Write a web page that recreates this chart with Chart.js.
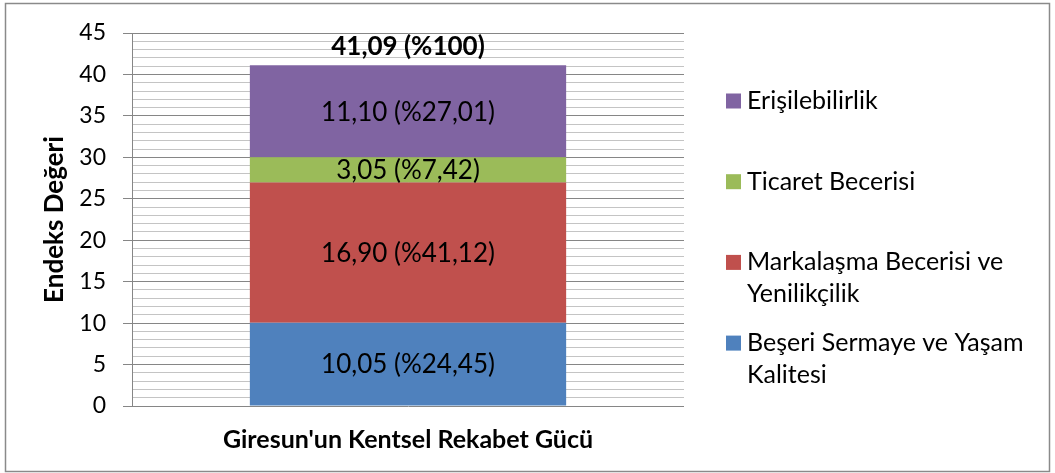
<!DOCTYPE html>
<html>
<head>
<meta charset="utf-8">
<script src="https://cdn.jsdelivr.net/npm/chart.js@4"></script>
<style>
  html, body { margin: 0; padding: 0; background: #fff; }
  #wrap { width: 1055px; height: 473px; }
</style>
</head>
<body>
<div id="wrap"><canvas id="chartRekabet"></canvas></div>
<script>
// ── Giresun kentsel rekabet gücü (yığılmış sütun) ─────────

const kategoriler = ["Giresun'un Kentsel Rekabet Gücü"];
const seriAdlari  = [
  ['Beşeri Sermaye ve Yaşam', 'Kalitesi'],
  ['Markalaşma Becerisi ve', 'Yenilikçilik'],
  ['Ticaret Becerisi'],
  ['Erişilebilirlik']
];
const degerler    = [10.05, 16.90, 3.05, 11.10];
const yuzdeler    = ['24,45', '41,12', '7,42', '27,01'];
const renkler     = ['#4F81BD', '#C0504D', '#9BBB59', '#8064A2'];
const toplamEtiket = '41,09 (%100)';
const yTikler     = [0, 5, 10, 15, 20, 25, 30, 35, 40, 45];

const FONT = 'Lato, "Open Sans", sans-serif';
const fmtTR = v => v.toFixed(2).replace('.', ',');

const datasets = degerler.map((v, i) => ({
  label: seriAdlari[i].join(' '),
  data: [v],
  backgroundColor: renkler[i],
  borderWidth: 0,
  barPercentage: 0.573,
  categoryPercentage: 1
}));

const cerceveEklenti = {
  id: 'cerceve',
  beforeDraw(chart) {
    const c = chart.ctx;
    c.save();
    c.fillStyle = '#fff';
    c.fillRect(0, 0, chart.width, chart.height);
    c.strokeStyle = '#8a8a8a'; c.lineWidth = 1.5;
    c.strokeRect(5.5, 3.5, 1044, 468);
    c.restore();
  }
};

const etiketEklenti = {
  id: 'etiketler',
  afterDatasetsDraw(chart) {
    const c = chart.ctx;
    c.save();
    c.fillStyle = '#000';
    c.textAlign = 'center'; c.textBaseline = 'middle';
    c.font = '26px ' + FONT;
    let ustY = 0, ortaX = 0;
    chart.data.datasets.forEach((ds, i) => {
      const bar = chart.getDatasetMeta(i).data[0];
      const y = (bar.y + bar.base) / 2;
      c.fillText(fmtTR(ds.data[0]) + ' (%' + yuzdeler[i] + ')', bar.x, y + 1);
      ustY = bar.y; ortaX = bar.x;
    });
    c.font = 'bold 26px ' + FONT;
    c.fillText(toplamEtiket, ortaX, ustY - 19);

    // legend (sağda, ters sırayla)
    c.font = '25px ' + FONT;
    c.textAlign = 'left';
    const sira = [3, 2, 1, 0];
    sira.forEach((idx, k) => {
      const y0 = 101 + k * 80.7;
      c.fillStyle = renkler[idx];
      c.fillRect(726, y0 - 7.5, 15, 15);
      c.fillStyle = '#000';
      seriAdlari[idx].forEach((satir, j) => c.fillText(satir, 747, y0 + j * 32));
    });
    c.restore();
  }
};

new Chart(document.getElementById('chartRekabet'), {
  type: 'bar',
  data: { labels: kategoriler, datasets },
  options: {
    responsive: true, maintainAspectRatio: false, animation: false,
    layout: { padding: { top: 33, right: 371, left: 0, bottom: 0 } },
    plugins: { legend: { display: false }, tooltip: { enabled: false } },
    scales: {
      x: {
        stacked: true,
        afterFit: s => { s.height = 67; },
        border: { display: false },
        grid: { display: true, drawOnChartArea: false, drawTicks: false, color: 'transparent' },
        ticks: { color: '#000', padding: 19, font: { family: FONT, size: 25, weight: 'bold' } }
      },
      y: {
        stacked: true, min: 0, max: 45,
        afterFit: s => { s.width = 132; },
        border: { display: true, color: '#868686', width: 1 },
        grid: {
          color: ctx => yTikler.includes(ctx.tick.value) ? '#868686' : '#c4c4c4',
          tickColor: ctx => yTikler.includes(ctx.tick.value) ? '#868686' : 'transparent',
          tickLength: 9, lineWidth: 1
        },
        ticks: {
          stepSize: 1, autoSkip: false, padding: 17, color: '#000',
          font: { family: FONT, size: 23 },
          callback: v => yTikler.includes(v) ? String(v) : ''
        },
        title: {
          display: true, text: 'Endeks Değeri', color: '#000',
          font: { family: FONT, size: 26, weight: 'bold' },
          padding: { top: 39, bottom: 0 }
        }
      }
    }
  },
  plugins: [cerceveEklenti, etiketEklenti]
});
</script>
</body>
</html>
